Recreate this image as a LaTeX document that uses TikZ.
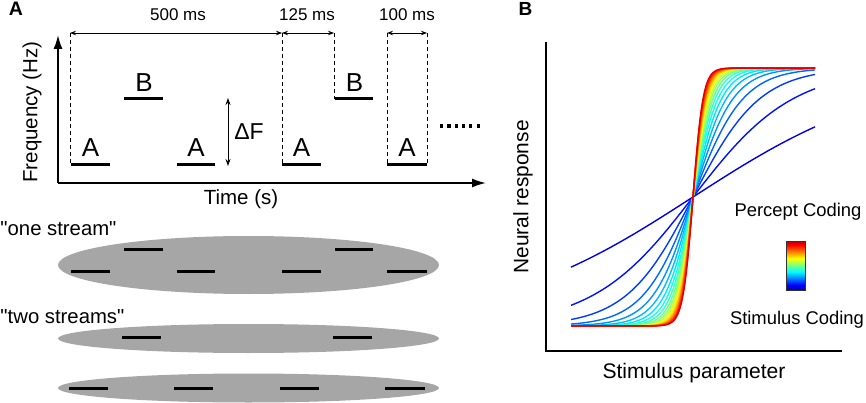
\documentclass[tikz,border=0pt]{standalone}
\usepackage{fontspec}
\setmainfont{Liberation Sans}[Ligatures=TeXOff]
\usetikzlibrary{arrows.meta}
\newcommand{\myfs}[1]{\fontsize{#1}{#1}\selectfont}
\tikzset{
  txt/.style={inner sep=0pt, outer sep=0pt},
  tone/.style={line width=3pt},
  dashv/.style={dashed, dash pattern=on 4pt off 3pt, line width=0.9pt},
  dimarrow/.style={{Stealth[length=6pt,width=4.5pt]}-{Stealth[length=6pt,width=4.5pt]}, line width=0.9pt},
  axisA/.style={-{Latex[length=14pt,width=9pt]}, line width=1.6pt},
  blob/.style={fill=black!35},
}
\begin{document}
\begin{tikzpicture}[x=1pt,y=-1pt]
\useasboundingbox (0,0) rectangle (866,403);
% ---------------- Panel A ----------------
\node[txt, font=\myfs{19.5}\bfseries] (labA) at (16,8.5) {A};
% axes
\coordinate (oA) at (58,183);
\coordinate (yA) at (58,35);
\coordinate (xA) at (486,183);
\draw[axisA] (oA) -- (yA);
\draw[axisA] (oA) -- (xA);
\node[txt, font=\myfs{20.5}, rotate=90] (freq) at (32,112) {Frequency (Hz)};
\node[txt, font=\myfs{20.5}] (time) at (241,199) {Time (s)};
% dashed guides
\foreach \nm/\xx/\yb in {d1/70/165, d2/282/165, d3/334/99, d4/387/165, d5/427/165}{
  \coordinate (\nm t) at (\xx,33);
  \coordinate (\nm b) at (\xx,\yb);
  \draw[dashv] (\nm t) -- (\nm b);
}
\draw[dimarrow] (d1t) -- (d2t);
\draw[dimarrow] (d2t) -- (d3t);
\draw[dimarrow] (d4t) -- (d5t);
\node[txt, font=\myfs{17}] (m500) at (178,15) {500 ms};
\node[txt, font=\myfs{17}] (m125) at (307,15) {125 ms};
\node[txt, font=\myfs{17}] (m100) at (407,15) {100 ms};
% tones
\foreach \xa/\xb in {71/110, 177/215, 282/321, 387/427}{
  \draw[tone] (\xa,165) -- (\xb,165);
  \node[txt, font=\myfs{26}] at ({(\xa+\xb)/2},148) {A};
}
\foreach \xa/\xb in {124/163, 335/373}{
  \draw[tone] (\xa,99) -- (\xb,99);
  \node[txt, font=\myfs{26}] at ({(\xa+\xb)/2+0.5},83) {B};
}
% Delta F
\coordinate (dfT) at (228,98);
\coordinate (dfB) at (228,166);
\draw[{Stealth[length=7pt,width=5pt]}-{Stealth[length=7pt,width=5pt]}, line width=0.9pt] (dfT) -- (dfB);
\node[txt, font=\myfs{23}] (dF) at (249,132) {ΔF};
\foreach \i in {0,...,5}{
  \fill ({440+7.3*\i},124.5) rectangle ({443.2+7.3*\i},127.7);
}
% streams
\node[txt, font=\myfs{20.3}, anchor=west] (one) at (0.5,229) {"one stream"};
\node[txt, font=\myfs{20.3}, anchor=west] (two) at (0.5,317) {"two streams"};
\fill[blob] (248.5,265) ellipse [x radius=190.5pt, y radius=29pt];
\fill[blob] (248.5,338.5) ellipse [x radius=190.5pt, y radius=14.5pt];
\fill[blob] (248.5,388) ellipse [x radius=190.5pt, y radius=14.5pt];
\foreach \xa/\xb in {124/163, 335/373}{ \draw[tone] (\xa,249) -- (\xb,249); }
\foreach \xa/\xb in {71/110, 177/215, 282/321, 387/427}{ \draw[tone] (\xa,271) -- (\xb,271); }
\foreach \xa/\xb in {122/161, 333/372}{ \draw[tone] (\xa,337) -- (\xb,337); }
\foreach \xa/\xb in {69/108, 174/213, 280/319, 385/425}{ \draw[tone] (\xa,388) -- (\xb,388); }
% ---------------- Panel B ----------------
\node[txt, font=\myfs{19}\bfseries] (labB) at (525.5,8.5) {B};
\coordinate (oB) at (546,351);
\coordinate (yB) at (546,42);
\coordinate (xB) at (842,351);
\draw[line width=1.8pt] (yB) -- (oB) -- (xB);
\node[txt, font=\myfs{20.9}, rotate=90] (nr) at (523,197) {Neural response};
\node[txt, font=\myfs{21.1}] (sp) at (694,373) {Stimulus parameter};
\foreach \n in {1,...,20}{
  \pgfmathsetmacro\kk{0.01*\n}
  \pgfmathsetmacro\tt{0.1+0.8*(\n-1)/19}
  \pgfmathsetmacro\rr{max(0,min(1,1.5-abs(4*\tt-3)))}
  \pgfmathsetmacro\gg{max(0,min(1,1.5-abs(4*\tt-2)))}
  \pgfmathsetmacro\bb{max(0,min(1,1.5-abs(4*\tt-1)))}
  \definecolor{jc}{rgb}{\rr,\gg,\bb}
  \draw[jc, line width=1.4pt] plot[domain=-122:122, samples=200]
    ({693+\x}, {197-129*tanh(max(-4,min(4,\kk*\x/2)))});
}
\node[txt, font=\myfs{18.4}] (pc) at (798,212) {Percept Coding};
\node[txt, font=\myfs{18.4}] (sc) at (797,320) {Stimulus Coding};
\foreach \i in {0,...,48}{
  \pgfmathsetmacro\tt{0.05+0.9*\i/48}
  \pgfmathsetmacro\rr{max(0,min(1,1.5-abs(4*\tt-3)))}
  \pgfmathsetmacro\gg{max(0,min(1,1.5-abs(4*\tt-2)))}
  \pgfmathsetmacro\bb{max(0,min(1,1.5-abs(4*\tt-1)))}
  \definecolor{jc}{rgb}{\rr,\gg,\bb}
  \fill[jc] (786,{290-\i}) rectangle (805,{289-\i});
}
\node[draw=black!80, line width=0.9pt, minimum width=19pt, minimum height=49pt, inner sep=0pt] (cbar) at (795.5,265.5) {};
\end{tikzpicture}
\end{document}
